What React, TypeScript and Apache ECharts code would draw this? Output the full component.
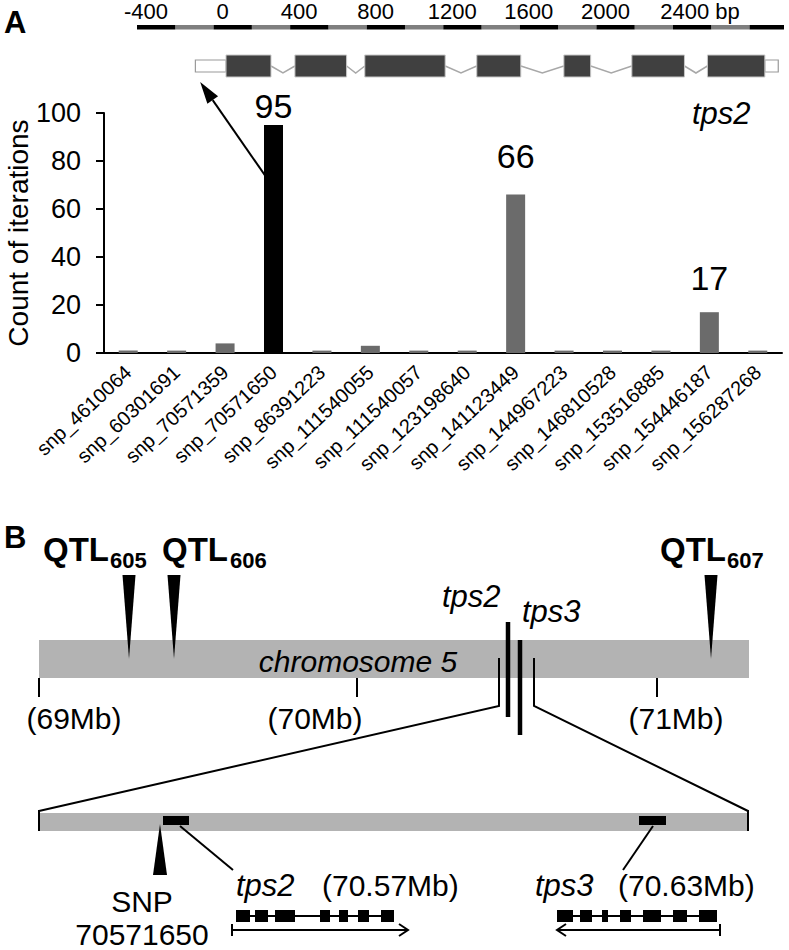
import React, { useEffect, useRef } from "react";
import * as echarts from "echarts";

const FONT = '"Liberation Sans", Arial, Helvetica, sans-serif';

// ---------- Panel A: bar chart data ----------
const snpCategories = [
  "snp_4610064", "snp_60301691", "snp_70571359", "snp_70571650",
  "snp_86391223", "snp_111540055", "snp_111540057", "snp_123198640",
  "snp_141123449", "snp_144967223", "snp_146810528", "snp_153516885",
  "snp_154446187", "snp_156287268",
];
const iterationCounts = [1, 1, 4, 95, 1, 3, 1, 1, 66, 1, 1, 1, 17, 1];
const countMin = 0;
const countMax = 100;
const countStep = 20;
const highlightedSnp = "snp_70571650";
const labelledSnps = ["snp_70571650", "snp_141123449", "snp_154446187"];

// ---------- Panel A: tps2 gene model (bp) ----------
const bpScaleLabels = [-400, 0, 400, 800, 1200, 1600, 2000, 2400];
const bpMin = -400;
const bpMax = 2980;
const bpStep = 400;
const scaleDarkBlocks = [
  [-400, -200], [0, 200], [400, 600], [800, 1000], [1200, 1400],
  [1600, 1800], [2000, 2200], [2400, 2600], [2800, 2980],
];
const scaleGreyBlocks = [
  [-200, 0], [200, 400], [600, 800], [1000, 1200], [1400, 1600],
  [1800, 2000], [2200, 2400], [2600, 2800],
];
const tps2UTRs = [[-95, 65], [2880, 2950]];
const tps2Exons = [
  [65, 300], [425, 695], [790, 1210], [1375, 1605],
  [1830, 1970], [2185, 2460], [2580, 2880],
];
const snpBp = -70; // SNP 70571650 position on the gene model
const arrowFromCount = 74;

// ---------- Panel B texts ----------
const qtlIds = ["605", "606", "607"];
const mbLabels = ["(69Mb)", "(70Mb)", "(71Mb)"];
const geneNames = ["tps2", "tps3"];
const genePositions = ["(70.57Mb)", "(70.63Mb)"];
const snpName = ["SNP", "70571650"];

// ---------- styling ----------
const valueLabelGap: Record<string, number> = {
  snp_70571650: 2,
  snp_141123449: 22,
  snp_154446187: 17,
};

function T(text: string, x: number, y: number, size: number, o: any = {}) {
  return {
    type: "text",
    x,
    y,
    silent: true,
    style: {
      text,
      fill: "#000",
      fontSize: size,
      fontFamily: FONT,
      fontWeight: o.bold ? "bold" : "normal",
      fontStyle: o.italic ? "italic" : "normal",
      align: o.align || "left",
      verticalAlign: "middle",
    },
  };
}
function Ln(points: number[][], w: number, color = "#000") {
  return { type: "polyline", silent: true, shape: { points }, style: { stroke: color, lineWidth: w, fill: null } };
}
function Rc(x: number, y: number, w: number, h: number, fill: string) {
  return { type: "rect", silent: true, shape: { x, y, width: w, height: h }, style: { fill } };
}
function Pg(points: number[][]) {
  return { type: "polygon", silent: true, shape: { points }, style: { fill: "#000" } };
}

function diagramElements(arrow: number[][]) {
  const els: any[] = [];
  // Panel A extras
  els.push(T("A", 4, 22, 31, { bold: true }));
  els.push(T("tps2", 692, 113, 31, { italic: true }));
  // arrow from bar to gene
  const [p1, tip] = arrow;
  const dx = p1[0] - tip[0];
  const dy = p1[1] - tip[1];
  const len = Math.hypot(dx, dy);
  const ux = dx / len, uy = dy / len;
  const hl = 22, hw = 6.5;
  const bc = [tip[0] + ux * hl, tip[1] + uy * hl];
  els.push(Ln([p1, bc], 2));
  els.push(Pg([tip, [bc[0] - uy * hw, bc[1] + ux * hw], [bc[0] + uy * hw, bc[1] - ux * hw]]));

  // Panel B
  els.push(T("B", 4, 537, 31, { bold: true }));
  const qtlText = [43, 162, 660];
  const qtlSub = [110, 230, 727];
  qtlIds.forEach((id, i) => {
    els.push(T("QTL", qtlText[i], 549, 33, { bold: true }));
    els.push(T(id, qtlSub[i], 560, 22, { bold: true }));
  });
  // chromosome bar
  els.push(Rc(39, 640, 710, 38, "#b3b3b3"));
  const qtlX = [129, 174, 711];
  qtlX.forEach((x) => els.push(Pg([[x - 6.5, 575], [x + 6.5, 575], [x, 659]])));
  els.push(T("chromosome 5", 358, 661, 30, { italic: true, align: "center" }));
  [39, 357, 657].forEach((x) => els.push(Ln([[x, 678], [x, 697]], 2)));
  const mbX = [74, 315, 676];
  mbLabels.forEach((t, i) => els.push(T(t, mbX[i], 718, 30, { align: "center" })));
  // gene locus marks
  els.push(T(geneNames[0], 442, 596, 31, { italic: true }));
  els.push(T(geneNames[1], 522, 611, 31, { italic: true }));
  els.push(Ln([[508, 622], [508, 717]], 4.5));
  els.push(Ln([[520, 640], [520, 735]], 4.5));
  els.push(Ln([[499, 658], [499, 706], [39, 811]], 2));
  els.push(Ln([[534, 658], [534, 706], [748, 811]], 2));
  // zoomed region
  els.push(Rc(39, 813, 709, 18, "#b3b3b3"));
  els.push(Ln([[39, 810], [39, 831]], 2));
  els.push(Ln([[748, 810], [748, 831]], 2));
  els.push(Rc(163, 816, 26, 9, "#000"));
  els.push(Rc(639, 816, 27, 9, "#000"));
  els.push(Pg([[153, 875], [167, 875], [160, 824]]));
  els.push(Ln([[180, 826], [233, 870]], 2));
  els.push(Ln([[653, 826], [623, 870]], 2));
  els.push(T(snpName[0], 142, 901, 30, { align: "center" }));
  els.push(T(snpName[1], 142, 934, 30, { align: "center" }));
  els.push(T(geneNames[0], 236, 885, 31, { italic: true }));
  els.push(T(genePositions[0], 322, 885, 30));
  els.push(T(geneNames[1], 535, 885, 31, { italic: true }));
  els.push(T(genePositions[1], 618, 885, 30));
  // tps2 gene model
  els.push(Ln([[236, 916], [394, 916]], 2));
  [[236, 250], [255, 268], [275, 295], [320, 330], [339, 348], [358, 369], [381, 394]].forEach(([a, b]) =>
    els.push(Rc(a, 910, b - a, 12, "#000"))
  );
  els.push(Ln([[232, 930], [408, 930]], 2));
  els.push(Ln([[232, 924], [232, 936]], 2));
  els.push(Ln([[399, 924], [408, 930], [399, 936]], 2));
  // tps3 gene model
  els.push(Ln([[557, 916], [717, 916]], 2));
  [[557, 573], [580, 592], [602, 608], [620, 631], [643, 661], [673, 687], [699, 717]].forEach(([a, b]) =>
    els.push(Rc(a, 910, b - a, 12, "#000"))
  );
  els.push(Ln([[557, 930], [720, 930]], 2));
  els.push(Ln([[720, 924], [720, 936]], 2));
  els.push(Ln([[566, 924], [557, 930], [566, 936]], 2));
  return els;
}

export default function App() {
  const ref = useRef<HTMLDivElement>(null);
  useEffect(() => {
    if (!ref.current) return;
    const chart = echarts.init(ref.current, null, { renderer: "svg" });
    const introns = tps2Exons.slice(1).map((e, i) => [tps2Exons[i][1], e[0], 0]);
    const option: any = {
      animation: false,
      backgroundColor: "#fff",
      textStyle: { fontFamily: FONT, color: "#000" },
      grid: [
        { left: 104, right: 7, top: 113, height: 240, containLabel: false, outerBoundsMode: "none" },
        { left: 137, width: 647, top: 27, height: 53, containLabel: false, outerBoundsMode: "none" },
      ],
      xAxis: [
        {
          type: "category",
          gridIndex: 0,
          data: snpCategories,
          axisLine: { lineStyle: { color: "#000", width: 2 } },
          axisTick: { length: 6, lineStyle: { color: "#000", width: 2 } },
          axisLabel: { interval: 0, rotate: 43, fontSize: 20, color: "#000", margin: 16, fontFamily: FONT },
        },
        {
          type: "value",
          gridIndex: 1,
          position: "top",
          min: bpMin,
          max: bpMax,
          interval: bpStep,
          axisLine: { show: false },
          axisTick: { show: false },
          splitLine: { show: false },
          axisLabel: {
            fontSize: 22,
            lineHeight: 22,
            color: "#000",
            margin: 5,
            padding: [0, 0, 0, 18],
            fontFamily: FONT,
            formatter: (v: number) =>
              bpScaleLabels.indexOf(v) < 0 ? "" : v === bpScaleLabels[bpScaleLabels.length - 1] ? "{gap|}" + v + " bp" : String(v),
            rich: { gap: { width: 36 } },
          },
        },
      ],
      yAxis: [
        {
          type: "value",
          gridIndex: 0,
          min: countMin,
          max: countMax,
          interval: countStep,
          name: "Count of iterations",
          nameLocation: "middle",
          nameGap: 72,
          nameMoveOverlap: false,
          nameTextStyle: { fontSize: 28, lineHeight: 28, color: "#000", fontFamily: FONT },
          axisLine: { show: true, lineStyle: { color: "#000", width: 2 } },
          axisTick: { show: true, length: 8, lineStyle: { color: "#000", width: 2 } },
          axisLabel: { fontSize: 27, color: "#000", margin: 23, fontFamily: FONT },
          splitLine: { show: false },
        },
        { type: "value", gridIndex: 1, min: 0, max: 1, show: false },
      ],
      series: [
        {
          type: "bar",
          xAxisIndex: 0,
          yAxisIndex: 0,
          barWidth: 19,
          data: iterationCounts.map((v, i) => {
            const name = snpCategories[i];
            const lab = labelledSnps.indexOf(name) >= 0;
            return {
              value: v,
              itemStyle: { color: name === highlightedSnp ? "#000" : "#6b6b6b" },
              label: lab
                ? { show: true, position: "top", distance: valueLabelGap[name], fontSize: 34, color: "#000", fontFamily: FONT }
                : { show: false },
            };
          }),
        },
        {
          type: "custom",
          xAxisIndex: 1,
          yAxisIndex: 1,
          encode: { x: [0, 1], y: 2 },
          data: [
            ...scaleGreyBlocks.map((b) => [b[0], b[1], 0]),
            ...scaleDarkBlocks.map((b) => [b[0], b[1], 1]),
          ],
          renderItem: (params: any, api: any) => {
            const x0 = api.coord([api.value(0), 0])[0];
            const x1 = api.coord([api.value(1), 0])[0];
            const top = params.coordSys.y;
            return {
              type: "rect",
              shape: { x: x0, y: top - 2, width: x1 - x0, height: 4.5 },
              style: { fill: api.value(2) ? "#000" : "#7f7f7f" },
            };
          },
        },
        {
          type: "custom",
          xAxisIndex: 1,
          yAxisIndex: 1,
          encode: { x: [0, 1], y: 2 },
          data: introns,
          renderItem: (params: any, api: any) => {
            const x0 = api.coord([api.value(0), 0])[0];
            const x1 = api.coord([api.value(1), 0])[0];
            const top = params.coordSys.y;
            return {
              type: "polyline",
              shape: { points: [[x0, top + 39], [(x0 + x1) / 2, top + 46], [x1, top + 39]] },
              style: { stroke: "#a8a8a8", lineWidth: 1.5, fill: null },
            };
          },
        },
        {
          type: "custom",
          xAxisIndex: 1,
          yAxisIndex: 1,
          encode: { x: [0, 1], y: 2 },
          data: [...tps2UTRs.map((u) => [u[0], u[1], 0]), ...tps2Exons.map((e) => [e[0], e[1], 1])],
          renderItem: (params: any, api: any) => {
            const x0 = api.coord([api.value(0), 0])[0];
            const x1 = api.coord([api.value(1), 0])[0];
            const top = params.coordSys.y;
            const exon = api.value(2) === 1;
            return {
              type: "rect",
              shape: exon
                ? { x: x0, y: top + 28, width: x1 - x0, height: 22 }
                : { x: x0, y: top + 33, width: x1 - x0, height: 12 },
              style: exon
                ? { fill: "#404040", stroke: "#c8c8c8", lineWidth: 1 }
                : { fill: "#fff", stroke: "#9a9a9a", lineWidth: 1.2 },
            };
          },
        },
      ],
    };
    chart.setOption(option);
    const barIdx = snpCategories.indexOf(highlightedSnp);
    const p1 = chart.convertToPixel({ xAxisIndex: 0, yAxisIndex: 0 }, [barIdx, arrowFromCount]) as number[];
    const p2 = chart.convertToPixel({ xAxisIndex: 1, yAxisIndex: 1 }, [snpBp, 0]) as number[];
    const start = [p1[0] - 8.5, p1[1]];
    const tip = [p2[0], p2[1] + 2];
    chart.setOption({ graphic: { elements: diagramElements([start, tip]) } });
    return () => chart.dispose();
  }, []);
  return (
    <div
      ref={ref}
      style={{ position: "absolute", left: 0, top: 0, width: 789, height: 950, background: "#fff" }}
    />
  );
}
